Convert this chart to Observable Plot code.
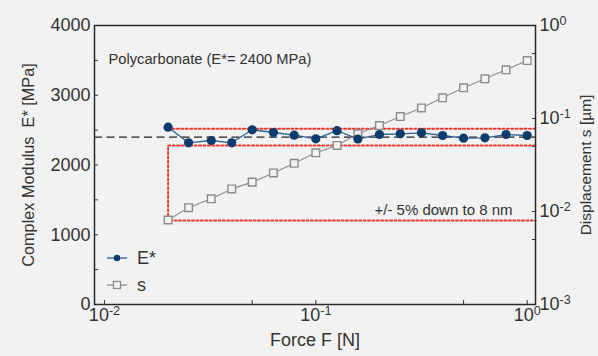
<!DOCTYPE html>
<html><head><meta charset="utf-8">
<script src="https://cdn.jsdelivr.net/npm/d3@7"></script>
<script src="https://cdn.jsdelivr.net/npm/@observablehq/plot@0.6"></script>
<style>
html,body{margin:0;padding:0;background:#f2f2f2;}
</style></head><body><div id="chart"></div>
<script>
// Data
const force = [0.02, 0.025, 0.032, 0.04, 0.05, 0.063, 0.079, 0.1, 0.126, 0.158, 0.2, 0.251, 0.316, 0.398, 0.5, 0.631, 0.794, 1.0];
const modulus = [2542, 2318, 2351, 2318, 2505, 2466, 2427, 2375, 2492, 2373, 2437, 2447, 2462, 2423, 2384, 2390, 2437, 2423];
const displacement = [0.0081, 0.011, 0.0137, 0.0175, 0.0207, 0.026, 0.033, 0.0428, 0.0513, 0.0684, 0.084, 0.105, 0.130, 0.167, 0.214, 0.267, 0.334, 0.42];
const nominalModulus = 2400;
const tolerance = 0.05;
const minDisplacement = 0.008;
const xTicks = [0.01, 0.1, 1];
const xMinorTicks = [0.05, 0.5];
const yTicks = [0, 1000, 2000, 3000, 4000];
const yMinorTicks = [500, 1500, 2500, 3500];
const sTicks = [0.001, 0.01, 0.1, 1];
const sMinorTicks = [0.005, 0.05, 0.5];
const titleText = "Polycarbonate (E*= 2400 MPa)";
const noteText = "+/- 5% down to 8 nm";
const xLabel = "Force F [N]";
const yLabel = "Complex Modulus\u00a0\u00a0E* [MPa]";
const sLabel = "Displacement s [µm]";
const legendLabels = ["E*", "s"];

const xDomain = [0.00897, 1.095];
const yMax = 4000;
const sExpMin = -3, sExpMax = 0;
const sToY = s => yMax * (Math.log10(s) - sExpMin) / (sExpMax - sExpMin);
const yToExp = y => Math.round(y / yMax * (sExpMax - sExpMin) + sExpMin);
const expLabel = e => "10^" + e;

const data = force.map((f, i) => ({F: f, E: modulus[i], sy: sToY(displacement[i])}));
const F0 = force[0];
const upper = nominalModulus * (1 + tolerance), lower = nominalModulus * (1 - tolerance);
const upperLine = [{F: F0, y: upper}, {F: xDomain[1], y: upper}];
const lowerBox = [{F: xDomain[1], y: lower}, {F: F0, y: lower}, {F: F0, y: sToY(minDisplacement)}, {F: xDomain[1], y: sToY(minDisplacement)}];

const font = "'Liberation Sans', Arial, Helvetica, sans-serif";
const ink = "#333";
const navy = "#0c3c6c", navyLine = "#2e5f92", grey = "#8c8c8c", red = "#ec3a2e";
const mL = 94, mR = 63, mT = 25, mB = 52, W = 598, H = 356;

const plot = Plot.plot({
  width: W, height: H,
  marginLeft: mL, marginRight: mR, marginTop: mT, marginBottom: mB,
  style: {background: "#f2f2f2", fontFamily: font, fontSize: "18px", color: ink, overflow: "visible"},
  x: {type: "log", domain: xDomain},
  y: {domain: [0, yMax]},
  marks: [
    Plot.axisX(xTicks, {tickSize: -4, tickPadding: 8, tickFormat: v => expLabel(Math.round(Math.log10(v))), label: null, fontSize: 18, stroke: ink}),
    Plot.axisX(xMinorTicks, {tickSize: -4, text: null, label: null, stroke: ink}),
    Plot.axisY(yTicks, {tickSize: -4, tickPadding: 8, tickFormat: d => String(d), label: null, fontSize: 18, stroke: ink}),
    Plot.axisY(yMinorTicks, {tickSize: -4, text: null, label: null, stroke: ink}),
    Plot.axisY(sTicks.map(sToY), {anchor: "right", tickSize: -4, tickPadding: 8, tickFormat: d => expLabel(yToExp(d)), label: null, fontSize: 18, stroke: ink}),
    Plot.axisY(sMinorTicks.map(sToY), {anchor: "right", tickSize: -4, text: null, label: null, stroke: ink}),
    Plot.line(upperLine, {x: "F", y: "y", stroke: red, strokeWidth: 2, strokeDasharray: "2,2.4"}),
    Plot.line(lowerBox, {x: "F", y: "y", stroke: red, strokeWidth: 2, strokeDasharray: "2,2.4"}),
    Plot.ruleY([nominalModulus], {stroke: "#222", strokeWidth: 1.3, strokeDasharray: "8,4.5"}),
    Plot.line(data, {x: "F", y: "sy", stroke: grey, strokeWidth: 1.1}),
    Plot.dot(data, {x: "F", y: "sy", symbol: "square", r: 4.3, stroke: grey, strokeWidth: 1.4, fill: "#f2f2f2"}),
    Plot.line(data, {x: "F", y: "E", stroke: navyLine, strokeWidth: 1.3}),
    Plot.dot(data, {x: "F", y: "E", r: 4.6, fill: navy, stroke: "none"}),
    Plot.text([titleText], {frameAnchor: "top-left", textAnchor: "start", dx: 14, dy: 28, fontSize: 14.7, fill: ink}),
    Plot.text([noteText], {frameAnchor: "right", y: () => sToY(minDisplacement), textAnchor: "end", dx: -23, dy: -10, fontSize: 15, fill: ink}),
    Plot.text([xLabel], {frameAnchor: "bottom", textAnchor: "middle", dy: 41, fontSize: 18, fill: ink}),
    Plot.text([yLabel], {frameAnchor: "left", textAnchor: "middle", rotate: -90, dx: -66, fontSize: 16.3, fill: ink}),
    Plot.text([sLabel], {frameAnchor: "right", textAnchor: "middle", rotate: -90, dx: 51, fontSize: 15.5, fill: ink}),
    Plot.frame({stroke: "#2a2a2a", strokeWidth: 1.5})
  ]
});

// superscript exponents in tick labels
d3.select(plot).selectAll("text").each(function() {
  const m = this.textContent.match(/^10\^(-?\d+)$/);
  if (!m) return;
  const t = d3.select(this);
  t.text("");
  t.append("tspan").text("10");
  t.append("tspan").attr("dy", "-0.5em").attr("font-size", "0.7em").text(m[1]);
});

// legend
const svg = d3.select(plot);
const lg = svg.append("g").attr("font-family", font).attr("font-size", 18).attr("fill", ink).attr("text-anchor", "start");
const rows = [
  {y: mT + 233, stroke: navyLine, label: legendLabels[0], sym: "dot"},
  {y: mT + 260, stroke: grey, label: legendLabels[1], sym: "square"}
];
rows.forEach(r => {
  lg.append("line").attr("x1", mL + 13).attr("x2", mL + 33).attr("y1", r.y).attr("y2", r.y).attr("stroke", r.stroke).attr("stroke-width", 1.3);
  if (r.sym === "dot") lg.append("circle").attr("cx", mL + 23).attr("cy", r.y).attr("r", 3.2).attr("fill", navy);
  else lg.append("rect").attr("x", mL + 19.5).attr("y", r.y - 3.5).attr("width", 7).attr("height", 7).attr("fill", "#f2f2f2").attr("stroke", grey).attr("stroke-width", 1.3);
  lg.append("text").attr("x", mL + 43).attr("y", r.y).attr("dy", "0.35em").attr("text-anchor", "start").text(r.label);
});

document.getElementById("chart").append(plot);
</script>
</body></html>
